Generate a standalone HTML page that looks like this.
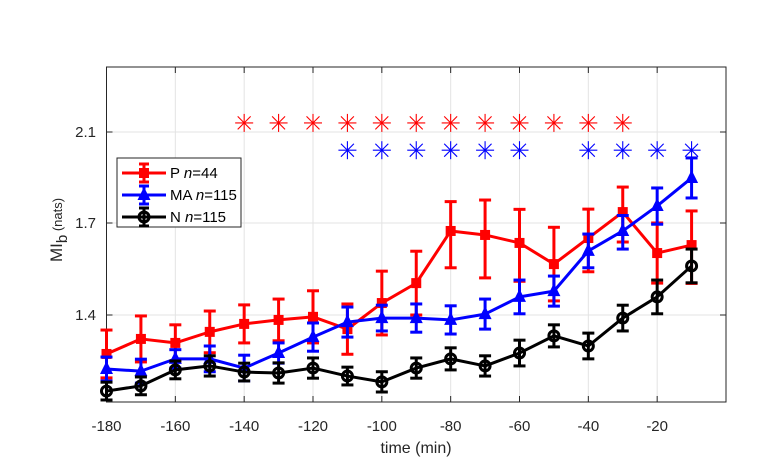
<!DOCTYPE html>
<html><head><meta charset="utf-8"><style>
body{margin:0;background:#fff;}
svg{display:block;font-family:"Liberation Sans",sans-serif;}
</style></head><body>
<svg id="chart" width="766" height="472">
</svg>
<script>
const xValues=[-180,-170,-160,-150,-140,-130,-120,-110,-100,-90,-80,-70,-60,-50,-40,-30,-20,-10];
const pMean=[1.273,1.322,1.309,1.345,1.371,1.384,1.394,1.354,1.439,1.504,1.674,1.661,1.635,1.566,1.651,1.748,1.602,1.628];
const pErr=[0.078,0.075,0.059,0.068,0.062,0.068,0.085,0.082,0.104,0.104,0.12,0.14,0.125,0.12,0.11,0.11,0.098,0.125];
const maMean=[1.224,1.217,1.257,1.257,1.227,1.276,1.328,1.377,1.390,1.390,1.384,1.403,1.459,1.478,1.609,1.674,1.775,1.898];
const maErr=[0.039,0.039,0.03,0.042,0.042,0.033,0.046,0.049,0.042,0.046,0.046,0.049,0.055,0.049,0.055,0.059,0.079,0.088];
const nMean=[1.152,1.169,1.221,1.234,1.214,1.211,1.227,1.201,1.182,1.227,1.257,1.234,1.276,1.332,1.299,1.390,1.459,1.560];
const nErr=[0.029,0.029,0.029,0.033,0.029,0.033,0.033,0.029,0.033,0.033,0.036,0.033,0.042,0.036,0.042,0.042,0.055,0.055];
const pSigX=[-140,-130,-120,-110,-100,-90,-80,-70,-60,-50,-40,-30];
const maSigX=[-110,-100,-90,-80,-70,-60,-40,-30,-20,-10];
const sigY=[2.14,2.02];
const xTicks=[-180,-160,-140,-120,-100,-80,-60,-40,-20];
const yTicks=[1.4,1.7,2.1];

const L=106.5,R=726,T=67,B=402;
function xs(v){return L+(v+180)/180*(R-L);}
function ys(v){ if(v<=1.7) return 223+(1.7-v)*306.7; return 223-(v-1.7)*227.5; }
const NS="http://www.w3.org/2000/svg";
const svg=document.getElementById('chart');
function mk(tag,attrs,parent){const e=document.createElementNS(NS,tag);for(const k in attrs)e.setAttribute(k,attrs[k]);(parent||svg).appendChild(e);return e;}

let bg=mk('rect',{x:L,y:T,width:R-L,height:B-T,fill:'#fff'});


xTicks.forEach(t=>{let g=mk('line',{x1:xs(t),x2:xs(t),y1:T,y2:B,stroke:'#e3e3e3','stroke-width':1});


mk('line',{x1:xs(t),x2:xs(t),y1:B,y2:B-6,stroke:'#262626'});mk('line',{x1:xs(t),x2:xs(t),y1:T,y2:T+6,stroke:'#262626'});
let tx=mk('text',{x:xs(t),y:431,'text-anchor':'middle','font-size':15,fill:'#262626'});tx.textContent=t;


});
yTicks.forEach(t=>{let g=mk('line',{x1:L,x2:R,y1:ys(t),y2:ys(t),stroke:'#e3e3e3','stroke-width':1});


mk('line',{x1:L,x2:L+6,y1:ys(t),y2:ys(t),stroke:'#262626'});mk('line',{x1:R,x2:R-6,y1:ys(t),y2:ys(t),stroke:'#262626'});
let tx=mk('text',{x:96,y:ys(t)+5,'text-anchor':'end','font-size':15,fill:'#262626'});tx.textContent=t.toFixed(1);


});
let box=mk('rect',{x:L,y:T,width:R-L,height:B-T,fill:'none',stroke:'#262626','stroke-width':1});



function star(cx,cy,col){const g=mk('g',{stroke:col,'stroke-width':1.1});const r=9;
mk('line',{x1:cx-r,x2:cx+r,y1:cy,y2:cy},g);mk('line',{x1:cx,x2:cx,y1:cy-r,y2:cy+r},g);
const d=r*0.72;mk('line',{x1:cx-d,x2:cx+d,y1:cy-d,y2:cy+d},g);mk('line',{x1:cx-d,x2:cx+d,y1:cy+d,y2:cy-d},g);return g;}
pSigX.forEach(x=>{const s=star(xs(x),ys(sigY[0]),'#ff0000');

});
maSigX.forEach(x=>{const s=star(xs(x),ys(sigY[1]),'#0000ff');

});

function marker(g,type,cx,cy,col){
 if(type==='sq') mk('rect',{x:cx-5,y:cy-5,width:10,height:10,fill:col},g);
 else if(type==='tri') mk('polygon',{points:`${cx},${cy-8} ${cx-6.5},${cy+5} ${cx+6.5},${cy+5}`,fill:col},g);
 else mk('circle',{cx:cx,cy:cy,r:5,fill:'none',stroke:col,'stroke-width':3},g);
}
function series(name,mean,err,col,type){
 const g=mk('g',{});
 
 
 const pts=xValues.map((x,i)=>xs(x)+','+ys(mean[i])).join(' ');
 mk('polyline',{points:pts,fill:'none',stroke:col,'stroke-width':3,'stroke-linejoin':'round'},g);
 xValues.forEach((x,i)=>{
  const cx=xs(x),y1=ys(mean[i]+err[i]),y2=ys(mean[i]-err[i]);
  const eb=mk('g',{stroke:col,'stroke-width':3},g);
  
  
  mk('line',{x1:cx,x2:cx,y1:y1,y2:y2},eb);mk('line',{x1:cx-6,x2:cx+6,y1:y1,y2:y1},eb);mk('line',{x1:cx-6,x2:cx+6,y1:y2,y2:y2},eb);
  marker(g,type,cx,ys(mean[i]),col);
 });
}
series('p',pMean,pErr,'#ff0000','sq');
series('ma',maMean,maErr,'#0000ff','tri');
series('n',nMean,nErr,'#000000','circ');

const lg=mk('g',{});


mk('rect',{x:117,y:158,width:124,height:69,fill:'#fff',stroke:'#262626','stroke-width':1},lg);
const entries=[['P ','44','#ff0000','sq',173],['MA ','115','#0000ff','tri',195],['N ','115','#000000','circ',217]];
entries.forEach(e=>{
 const g=mk('g',{},lg);
 
 
 mk('line',{x1:122,x2:166,y1:e[4],y2:e[4],stroke:e[2],'stroke-width':3},g);
 mk('line',{x1:144,x2:144,y1:e[4]-9,y2:e[4]+9,stroke:e[2],'stroke-width':3},g);
 mk('line',{x1:139,x2:149,y1:e[4]-9,y2:e[4]-9,stroke:e[2],'stroke-width':3},g);
 mk('line',{x1:139,x2:149,y1:e[4]+9,y2:e[4]+9,stroke:e[2],'stroke-width':3},g);
 marker(g,e[3],144,e[4],e[2]);
 const t=mk('text',{x:170,y:e[4]+5,'font-size':15,fill:'#000'},g);
 t.innerHTML=e[0]+'<tspan font-style="italic">n</tspan>='+e[1];
});

const xl=mk('text',{x:416,y:453,'text-anchor':'middle','font-size':16,fill:'#262626'});xl.textContent='time (min)';


const yl=mk('text',{x:0,y:0,'text-anchor':'middle','font-size':17,fill:'#262626',transform:'translate(62,230) rotate(-90)'});
yl.innerHTML='MI<tspan font-size="15" dy="5">b</tspan><tspan font-size="13" dy="-5"> (nats)</tspan>';


</script>
</body></html>
